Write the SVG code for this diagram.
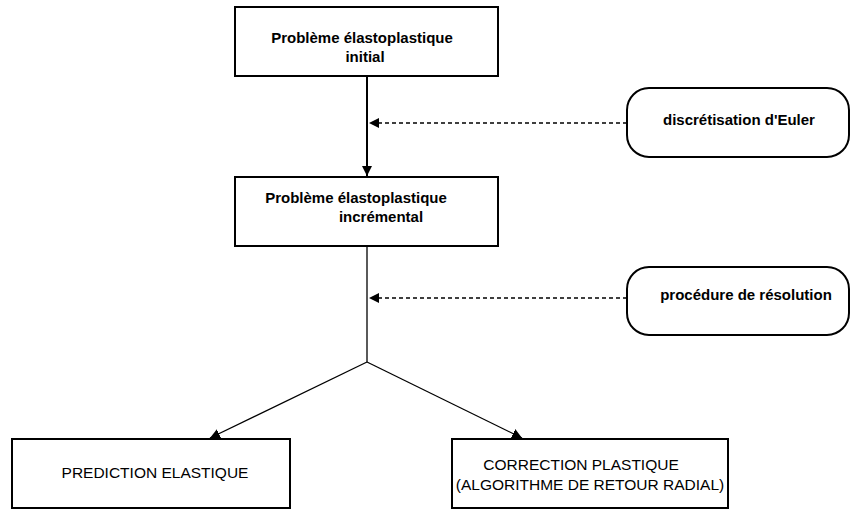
<svg xmlns="http://www.w3.org/2000/svg" width="851" height="512" viewBox="0 0 851 512">
<style>
.box{fill:#fff;stroke:#000;stroke-width:2}
.t{font-family:"Liberation Sans",Arial,sans-serif;font-size:15.5px;fill:#000}
.b{font-weight:bold;font-size:15px}
.solid{stroke:#000;fill:none}
.dash{stroke:#000;fill:none;stroke-width:1.5;stroke-dasharray:4,3}
</style>
<defs>
<marker id="ah" viewBox="0 0 10 10" refX="10" refY="5" markerWidth="10" markerHeight="10" markerUnits="userSpaceOnUse" orient="auto">
<path d="M0,0 L10,5 L0,10 z" fill="#000"/>
</marker>
</defs>
<rect width="851" height="512" fill="#fff"/>
<g id="connectors">
<line class="solid" x1="367" y1="76" x2="367" y2="176" stroke-width="2" marker-end="url(#ah)"/>
<line class="dash" x1="627" y1="123" x2="369" y2="123" marker-end="url(#ah)"/>
<line class="solid" x1="367" y1="246" x2="367" y2="362" stroke-width="1.3"/>
<line class="dash" x1="627" y1="298" x2="369" y2="298" marker-end="url(#ah)"/>
<line class="solid" x1="367" y1="362" x2="210" y2="438" stroke-width="1.3" marker-end="url(#ah)"/>
<line class="solid" x1="367" y1="362" x2="522" y2="438" stroke-width="1.3" marker-end="url(#ah)"/>
</g>
<g id="n1">
<rect class="box" x="235" y="7" width="263" height="69"/>
<text class="t b" x="362" y="43" text-anchor="middle">Problème élastoplastique</text>
<text class="t b" x="365" y="62" text-anchor="middle">initial</text>
</g>
<g id="n2">
<rect class="box" x="235" y="177" width="263" height="69"/>
<text class="t b" x="356" y="203" text-anchor="middle">Problème élastoplastique</text>
<text class="t b" x="381" y="222" text-anchor="middle">incrémental</text>
</g>
<g id="n3">
<rect class="box" x="627" y="88" width="222" height="69" rx="22" ry="22"/>
<text class="t b" x="739" y="125" text-anchor="middle">discrétisation d'Euler</text>
</g>
<g id="n4">
<rect class="box" x="627" y="267" width="222" height="68" rx="22" ry="22"/>
<text class="t b" x="746" y="300" text-anchor="middle">procédure de résolution</text>
</g>
<g id="n5">
<rect class="box" x="12" y="439" width="278" height="69"/>
<text class="t" x="155" y="478" text-anchor="middle">PREDICTION ELASTIQUE</text>
</g>
<g id="n6">
<rect class="box" x="452" y="439" width="276" height="69"/>
<text class="t" x="581" y="470" text-anchor="middle">CORRECTION PLASTIQUE</text>
<text class="t" x="590" y="490" text-anchor="middle">(ALGORITHME DE RETOUR RADIAL)</text>
</g>
</svg>
